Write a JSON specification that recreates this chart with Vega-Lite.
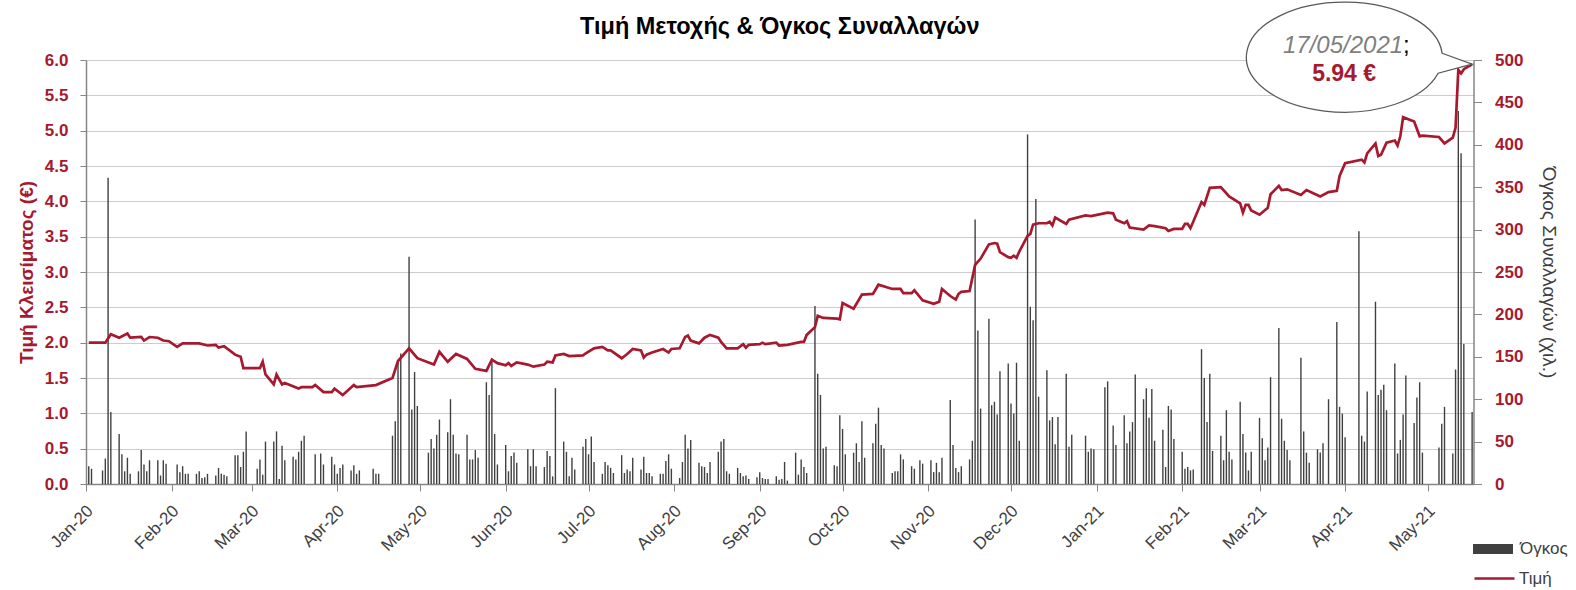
{
  "$schema": "https://vega.github.io/schema/vega-lite/v6.json",
  "width": 1387.5,
  "height": 424,
  "autosize": {"type": "none"},
  "padding": {"left": 86, "top": 60, "right": 102.5, "bottom": 106},
  "background": "white",
  "title": {
    "text": "Τιμή Μετοχής & Όγκος Συναλλαγών",
    "font": "Liberation Sans",
    "fontSize": 23.5,
    "fontWeight": "bold",
    "color": "#000000",
    "anchor": "middle",
    "frame": "group",
    "baseline": "alphabetic",
    "offset": -58
  },
  "config": {
    "view": {"stroke": null},
    "legend": {"padding": 0, "rowPadding": 0}
  },
  "datasets": {
    "price": [
      {"d": "2020-01-02", "p": 2.00}, {"d": "2020-01-08", "p": 2.00}, {"d": "2020-01-10", "p": 2.12}, {"d": "2020-01-13", "p": 2.07},
      {"d": "2020-01-16", "p": 2.13}, {"d": "2020-01-17", "p": 2.07}, {"d": "2020-01-21", "p": 2.08}, {"d": "2020-01-22", "p": 2.03},
      {"d": "2020-01-24", "p": 2.08}, {"d": "2020-01-27", "p": 2.07}, {"d": "2020-01-29", "p": 2.03}, {"d": "2020-01-31", "p": 2.02},
      {"d": "2020-02-03", "p": 1.94}, {"d": "2020-02-05", "p": 1.99}, {"d": "2020-02-11", "p": 1.99}, {"d": "2020-02-14", "p": 1.96},
      {"d": "2020-02-17", "p": 1.97}, {"d": "2020-02-18", "p": 1.93}, {"d": "2020-02-20", "p": 1.95}, {"d": "2020-02-24", "p": 1.83},
      {"d": "2020-02-26", "p": 1.80}, {"d": "2020-02-27", "p": 1.64}, {"d": "2020-03-04", "p": 1.64}, {"d": "2020-03-05", "p": 1.73},
      {"d": "2020-03-06", "p": 1.55}, {"d": "2020-03-09", "p": 1.41}, {"d": "2020-03-10", "p": 1.55}, {"d": "2020-03-12", "p": 1.41},
      {"d": "2020-03-13", "p": 1.43}, {"d": "2020-03-18", "p": 1.35}, {"d": "2020-03-19", "p": 1.37}, {"d": "2020-03-23", "p": 1.37},
      {"d": "2020-03-24", "p": 1.40}, {"d": "2020-03-27", "p": 1.30}, {"d": "2020-03-30", "p": 1.30}, {"d": "2020-03-31", "p": 1.35},
      {"d": "2020-04-03", "p": 1.26}, {"d": "2020-04-07", "p": 1.40}, {"d": "2020-04-08", "p": 1.37}, {"d": "2020-04-15", "p": 1.40},
      {"d": "2020-04-21", "p": 1.50}, {"d": "2020-04-23", "p": 1.74}, {"d": "2020-04-27", "p": 1.92}, {"d": "2020-04-30", "p": 1.78},
      {"d": "2020-05-06", "p": 1.69}, {"d": "2020-05-08", "p": 1.87}, {"d": "2020-05-11", "p": 1.73}, {"d": "2020-05-14", "p": 1.84},
      {"d": "2020-05-18", "p": 1.77}, {"d": "2020-05-21", "p": 1.63}, {"d": "2020-05-25", "p": 1.60}, {"d": "2020-05-27", "p": 1.76},
      {"d": "2020-05-29", "p": 1.71}, {"d": "2020-06-01", "p": 1.68}, {"d": "2020-06-02", "p": 1.71}, {"d": "2020-06-03", "p": 1.67},
      {"d": "2020-06-05", "p": 1.72}, {"d": "2020-06-09", "p": 1.69}, {"d": "2020-06-11", "p": 1.66}, {"d": "2020-06-15", "p": 1.69},
      {"d": "2020-06-16", "p": 1.73}, {"d": "2020-06-18", "p": 1.72}, {"d": "2020-06-19", "p": 1.82}, {"d": "2020-06-22", "p": 1.84},
      {"d": "2020-06-24", "p": 1.81}, {"d": "2020-06-29", "p": 1.82}, {"d": "2020-06-30", "p": 1.85}, {"d": "2020-07-03", "p": 1.92},
      {"d": "2020-07-06", "p": 1.94}, {"d": "2020-07-08", "p": 1.89}, {"d": "2020-07-09", "p": 1.89}, {"d": "2020-07-13", "p": 1.78},
      {"d": "2020-07-15", "p": 1.84}, {"d": "2020-07-17", "p": 1.91}, {"d": "2020-07-20", "p": 1.89}, {"d": "2020-07-21", "p": 1.79},
      {"d": "2020-07-22", "p": 1.83}, {"d": "2020-07-24", "p": 1.86}, {"d": "2020-07-28", "p": 1.91}, {"d": "2020-07-30", "p": 1.86},
      {"d": "2020-07-31", "p": 1.91}, {"d": "2020-08-03", "p": 1.92}, {"d": "2020-08-05", "p": 2.08}, {"d": "2020-08-06", "p": 2.10},
      {"d": "2020-08-07", "p": 2.03}, {"d": "2020-08-10", "p": 1.99}, {"d": "2020-08-12", "p": 2.07}, {"d": "2020-08-14", "p": 2.11},
      {"d": "2020-08-17", "p": 2.07}, {"d": "2020-08-18", "p": 2.01}, {"d": "2020-08-20", "p": 1.92}, {"d": "2020-08-24", "p": 1.92},
      {"d": "2020-08-26", "p": 1.98}, {"d": "2020-08-27", "p": 1.93}, {"d": "2020-08-28", "p": 1.97}, {"d": "2020-09-01", "p": 1.98},
      {"d": "2020-09-02", "p": 2.00}, {"d": "2020-09-03", "p": 1.98}, {"d": "2020-09-07", "p": 2.00}, {"d": "2020-09-08", "p": 1.96},
      {"d": "2020-09-11", "p": 1.97}, {"d": "2020-09-16", "p": 2.01}, {"d": "2020-09-17", "p": 2.01}, {"d": "2020-09-18", "p": 2.11},
      {"d": "2020-09-21", "p": 2.22}, {"d": "2020-09-22", "p": 2.38}, {"d": "2020-09-24", "p": 2.35}, {"d": "2020-09-29", "p": 2.34},
      {"d": "2020-09-30", "p": 2.33}, {"d": "2020-10-01", "p": 2.56}, {"d": "2020-10-05", "p": 2.48}, {"d": "2020-10-08", "p": 2.68},
      {"d": "2020-10-12", "p": 2.69}, {"d": "2020-10-14", "p": 2.82}, {"d": "2020-10-19", "p": 2.76}, {"d": "2020-10-22", "p": 2.76},
      {"d": "2020-10-23", "p": 2.70}, {"d": "2020-10-26", "p": 2.70}, {"d": "2020-10-27", "p": 2.74}, {"d": "2020-10-30", "p": 2.60},
      {"d": "2020-11-03", "p": 2.55}, {"d": "2020-11-05", "p": 2.58}, {"d": "2020-11-06", "p": 2.76}, {"d": "2020-11-09", "p": 2.66},
      {"d": "2020-11-11", "p": 2.61}, {"d": "2020-11-12", "p": 2.69}, {"d": "2020-11-13", "p": 2.72}, {"d": "2020-11-16", "p": 2.73},
      {"d": "2020-11-18", "p": 3.10}, {"d": "2020-11-20", "p": 3.19}, {"d": "2020-11-23", "p": 3.39}, {"d": "2020-11-25", "p": 3.41},
      {"d": "2020-11-26", "p": 3.40}, {"d": "2020-11-27", "p": 3.28}, {"d": "2020-11-30", "p": 3.21}, {"d": "2020-12-01", "p": 3.20},
      {"d": "2020-12-02", "p": 3.23}, {"d": "2020-12-03", "p": 3.20}, {"d": "2020-12-04", "p": 3.29}, {"d": "2020-12-07", "p": 3.51},
      {"d": "2020-12-08", "p": 3.54}, {"d": "2020-12-09", "p": 3.67}, {"d": "2020-12-11", "p": 3.69}, {"d": "2020-12-14", "p": 3.69},
      {"d": "2020-12-15", "p": 3.71}, {"d": "2020-12-16", "p": 3.66}, {"d": "2020-12-17", "p": 3.77}, {"d": "2020-12-21", "p": 3.68},
      {"d": "2020-12-22", "p": 3.74}, {"d": "2020-12-28", "p": 3.80}, {"d": "2020-12-30", "p": 3.79}, {"d": "2021-01-05", "p": 3.84},
      {"d": "2021-01-07", "p": 3.83}, {"d": "2021-01-08", "p": 3.74}, {"d": "2021-01-11", "p": 3.69}, {"d": "2021-01-12", "p": 3.72},
      {"d": "2021-01-13", "p": 3.63}, {"d": "2021-01-18", "p": 3.60}, {"d": "2021-01-20", "p": 3.66}, {"d": "2021-01-22", "p": 3.65},
      {"d": "2021-01-26", "p": 3.62}, {"d": "2021-01-27", "p": 3.58}, {"d": "2021-01-29", "p": 3.61}, {"d": "2021-02-01", "p": 3.61},
      {"d": "2021-02-02", "p": 3.68}, {"d": "2021-02-03", "p": 3.68}, {"d": "2021-02-04", "p": 3.62}, {"d": "2021-02-08", "p": 3.99},
      {"d": "2021-02-09", "p": 3.95}, {"d": "2021-02-11", "p": 4.19}, {"d": "2021-02-15", "p": 4.20}, {"d": "2021-02-18", "p": 4.07},
      {"d": "2021-02-22", "p": 3.97}, {"d": "2021-02-23", "p": 3.84}, {"d": "2021-02-24", "p": 3.95}, {"d": "2021-02-25", "p": 3.95},
      {"d": "2021-02-26", "p": 3.87}, {"d": "2021-03-01", "p": 3.81}, {"d": "2021-03-04", "p": 3.91}, {"d": "2021-03-05", "p": 4.10},
      {"d": "2021-03-08", "p": 4.22}, {"d": "2021-03-09", "p": 4.16}, {"d": "2021-03-11", "p": 4.17}, {"d": "2021-03-16", "p": 4.09},
      {"d": "2021-03-18", "p": 4.16}, {"d": "2021-03-23", "p": 4.07}, {"d": "2021-03-26", "p": 4.13}, {"d": "2021-03-29", "p": 4.15},
      {"d": "2021-03-30", "p": 4.36}, {"d": "2021-04-01", "p": 4.54}, {"d": "2021-04-07", "p": 4.59}, {"d": "2021-04-08", "p": 4.55},
      {"d": "2021-04-09", "p": 4.68}, {"d": "2021-04-12", "p": 4.82}, {"d": "2021-04-13", "p": 4.64}, {"d": "2021-04-14", "p": 4.66},
      {"d": "2021-04-16", "p": 4.83}, {"d": "2021-04-19", "p": 4.86}, {"d": "2021-04-20", "p": 4.79}, {"d": "2021-04-21", "p": 4.92},
      {"d": "2021-04-22", "p": 5.19}, {"d": "2021-04-26", "p": 5.13}, {"d": "2021-04-28", "p": 4.92}, {"d": "2021-04-29", "p": 4.93},
      {"d": "2021-05-05", "p": 4.91}, {"d": "2021-05-07", "p": 4.82}, {"d": "2021-05-10", "p": 4.90}, {"d": "2021-05-11", "p": 5.04},
      {"d": "2021-05-12", "p": 5.86}, {"d": "2021-05-13", "p": 5.81}, {"d": "2021-05-14", "p": 5.87}, {"d": "2021-05-17", "p": 5.94}
    ],
    "volume": [
      {"d": "2020-01-02", "v": 21}, {"d": "2020-01-03", "v": 18}, {"d": "2020-01-07", "v": 16}, {"d": "2020-01-08", "v": 30},
      {"d": "2020-01-09", "v": 361}, {"d": "2020-01-10", "v": 85}, {"d": "2020-01-13", "v": 59}, {"d": "2020-01-14", "v": 35},
      {"d": "2020-01-15", "v": 15}, {"d": "2020-01-16", "v": 31}, {"d": "2020-01-17", "v": 12}, {"d": "2020-01-20", "v": 15},
      {"d": "2020-01-21", "v": 40}, {"d": "2020-01-22", "v": 23}, {"d": "2020-01-23", "v": 15}, {"d": "2020-01-24", "v": 28},
      {"d": "2020-01-27", "v": 28}, {"d": "2020-01-28", "v": 10}, {"d": "2020-01-29", "v": 28}, {"d": "2020-01-30", "v": 24},
      {"d": "2020-02-03", "v": 23}, {"d": "2020-02-04", "v": 14}, {"d": "2020-02-05", "v": 21}, {"d": "2020-02-06", "v": 12},
      {"d": "2020-02-07", "v": 12}, {"d": "2020-02-10", "v": 12}, {"d": "2020-02-11", "v": 15}, {"d": "2020-02-12", "v": 7},
      {"d": "2020-02-13", "v": 8}, {"d": "2020-02-14", "v": 12}, {"d": "2020-02-17", "v": 10}, {"d": "2020-02-18", "v": 19},
      {"d": "2020-02-19", "v": 12}, {"d": "2020-02-20", "v": 11}, {"d": "2020-02-21", "v": 9}, {"d": "2020-02-24", "v": 34},
      {"d": "2020-02-25", "v": 34}, {"d": "2020-02-26", "v": 20}, {"d": "2020-02-27", "v": 38}, {"d": "2020-02-28", "v": 62},
      {"d": "2020-03-03", "v": 18}, {"d": "2020-03-04", "v": 29}, {"d": "2020-03-05", "v": 11}, {"d": "2020-03-06", "v": 50},
      {"d": "2020-03-09", "v": 50}, {"d": "2020-03-10", "v": 62}, {"d": "2020-03-11", "v": 6}, {"d": "2020-03-12", "v": 45},
      {"d": "2020-03-13", "v": 28}, {"d": "2020-03-16", "v": 32}, {"d": "2020-03-17", "v": 29}, {"d": "2020-03-18", "v": 38},
      {"d": "2020-03-19", "v": 51}, {"d": "2020-03-20", "v": 57}, {"d": "2020-03-24", "v": 35}, {"d": "2020-03-26", "v": 36},
      {"d": "2020-03-27", "v": 23}, {"d": "2020-03-30", "v": 32}, {"d": "2020-03-31", "v": 23}, {"d": "2020-04-01", "v": 12},
      {"d": "2020-04-02", "v": 19}, {"d": "2020-04-03", "v": 23}, {"d": "2020-04-06", "v": 16}, {"d": "2020-04-07", "v": 22},
      {"d": "2020-04-08", "v": 12}, {"d": "2020-04-09", "v": 16}, {"d": "2020-04-14", "v": 18}, {"d": "2020-04-15", "v": 12},
      {"d": "2020-04-16", "v": 12}, {"d": "2020-04-21", "v": 57}, {"d": "2020-04-22", "v": 74}, {"d": "2020-04-23", "v": 144},
      {"d": "2020-04-24", "v": 154}, {"d": "2020-04-27", "v": 268}, {"d": "2020-04-28", "v": 88}, {"d": "2020-04-29", "v": 132},
      {"d": "2020-04-30", "v": 92}, {"d": "2020-05-04", "v": 37}, {"d": "2020-05-05", "v": 53}, {"d": "2020-05-06", "v": 42},
      {"d": "2020-05-07", "v": 58}, {"d": "2020-05-08", "v": 76}, {"d": "2020-05-11", "v": 61}, {"d": "2020-05-12", "v": 100},
      {"d": "2020-05-13", "v": 58}, {"d": "2020-05-14", "v": 36}, {"d": "2020-05-15", "v": 35}, {"d": "2020-05-18", "v": 58},
      {"d": "2020-05-19", "v": 29}, {"d": "2020-05-20", "v": 29}, {"d": "2020-05-21", "v": 40}, {"d": "2020-05-22", "v": 31},
      {"d": "2020-05-25", "v": 120}, {"d": "2020-05-26", "v": 105}, {"d": "2020-05-27", "v": 148}, {"d": "2020-05-28", "v": 59},
      {"d": "2020-05-29", "v": 23}, {"d": "2020-06-01", "v": 46}, {"d": "2020-06-02", "v": 15}, {"d": "2020-06-03", "v": 33},
      {"d": "2020-06-04", "v": 37}, {"d": "2020-06-05", "v": 25}, {"d": "2020-06-09", "v": 41}, {"d": "2020-06-10", "v": 21},
      {"d": "2020-06-11", "v": 41}, {"d": "2020-06-12", "v": 21}, {"d": "2020-06-15", "v": 20}, {"d": "2020-06-16", "v": 39},
      {"d": "2020-06-17", "v": 33}, {"d": "2020-06-18", "v": 9}, {"d": "2020-06-19", "v": 113}, {"d": "2020-06-22", "v": 50},
      {"d": "2020-06-23", "v": 38}, {"d": "2020-06-24", "v": 9}, {"d": "2020-06-25", "v": 31}, {"d": "2020-06-26", "v": 17},
      {"d": "2020-06-29", "v": 44}, {"d": "2020-06-30", "v": 53}, {"d": "2020-07-01", "v": 35}, {"d": "2020-07-02", "v": 56},
      {"d": "2020-07-03", "v": 26}, {"d": "2020-07-06", "v": 12}, {"d": "2020-07-07", "v": 26}, {"d": "2020-07-08", "v": 22},
      {"d": "2020-07-09", "v": 19}, {"d": "2020-07-10", "v": 13}, {"d": "2020-07-13", "v": 34}, {"d": "2020-07-14", "v": 13},
      {"d": "2020-07-15", "v": 17}, {"d": "2020-07-16", "v": 15}, {"d": "2020-07-17", "v": 31}, {"d": "2020-07-20", "v": 17},
      {"d": "2020-07-21", "v": 32}, {"d": "2020-07-22", "v": 13}, {"d": "2020-07-23", "v": 13}, {"d": "2020-07-24", "v": 9},
      {"d": "2020-07-27", "v": 12}, {"d": "2020-07-28", "v": 12}, {"d": "2020-07-29", "v": 27}, {"d": "2020-07-30", "v": 35},
      {"d": "2020-07-31", "v": 18}, {"d": "2020-08-03", "v": 7}, {"d": "2020-08-04", "v": 26}, {"d": "2020-08-05", "v": 58},
      {"d": "2020-08-06", "v": 42}, {"d": "2020-08-07", "v": 52}, {"d": "2020-08-10", "v": 25}, {"d": "2020-08-11", "v": 21},
      {"d": "2020-08-12", "v": 20}, {"d": "2020-08-13", "v": 13}, {"d": "2020-08-14", "v": 26}, {"d": "2020-08-17", "v": 38},
      {"d": "2020-08-18", "v": 50}, {"d": "2020-08-19", "v": 53}, {"d": "2020-08-20", "v": 15}, {"d": "2020-08-21", "v": 12},
      {"d": "2020-08-24", "v": 19}, {"d": "2020-08-25", "v": 13}, {"d": "2020-08-26", "v": 9}, {"d": "2020-08-27", "v": 10},
      {"d": "2020-08-28", "v": 6}, {"d": "2020-08-31", "v": 8}, {"d": "2020-09-01", "v": 14}, {"d": "2020-09-02", "v": 7},
      {"d": "2020-09-03", "v": 6}, {"d": "2020-09-04", "v": 6}, {"d": "2020-09-07", "v": 9}, {"d": "2020-09-08", "v": 5},
      {"d": "2020-09-09", "v": 6}, {"d": "2020-09-10", "v": 26}, {"d": "2020-09-11", "v": 4}, {"d": "2020-09-14", "v": 37},
      {"d": "2020-09-15", "v": 11}, {"d": "2020-09-16", "v": 29}, {"d": "2020-09-17", "v": 20}, {"d": "2020-09-18", "v": 13},
      {"d": "2020-09-21", "v": 210}, {"d": "2020-09-22", "v": 130}, {"d": "2020-09-23", "v": 105}, {"d": "2020-09-24", "v": 42},
      {"d": "2020-09-25", "v": 44}, {"d": "2020-09-28", "v": 22}, {"d": "2020-09-29", "v": 21}, {"d": "2020-09-30", "v": 81},
      {"d": "2020-10-01", "v": 65}, {"d": "2020-10-02", "v": 35}, {"d": "2020-10-05", "v": 37}, {"d": "2020-10-06", "v": 48},
      {"d": "2020-10-07", "v": 26}, {"d": "2020-10-08", "v": 74}, {"d": "2020-10-09", "v": 31}, {"d": "2020-10-12", "v": 48},
      {"d": "2020-10-13", "v": 71}, {"d": "2020-10-14", "v": 90}, {"d": "2020-10-15", "v": 46}, {"d": "2020-10-16", "v": 42},
      {"d": "2020-10-19", "v": 13}, {"d": "2020-10-20", "v": 15}, {"d": "2020-10-21", "v": 15}, {"d": "2020-10-22", "v": 35},
      {"d": "2020-10-23", "v": 29}, {"d": "2020-10-26", "v": 21}, {"d": "2020-10-27", "v": 18}, {"d": "2020-10-29", "v": 28},
      {"d": "2020-10-30", "v": 24}, {"d": "2020-11-02", "v": 28}, {"d": "2020-11-03", "v": 14}, {"d": "2020-11-04", "v": 25},
      {"d": "2020-11-05", "v": 14}, {"d": "2020-11-06", "v": 31}, {"d": "2020-11-09", "v": 99}, {"d": "2020-11-10", "v": 46},
      {"d": "2020-11-11", "v": 19}, {"d": "2020-11-12", "v": 14}, {"d": "2020-11-13", "v": 21}, {"d": "2020-11-16", "v": 29},
      {"d": "2020-11-17", "v": 51}, {"d": "2020-11-18", "v": 312}, {"d": "2020-11-19", "v": 181}, {"d": "2020-11-20", "v": 89},
      {"d": "2020-11-23", "v": 195}, {"d": "2020-11-24", "v": 93}, {"d": "2020-11-25", "v": 97}, {"d": "2020-11-26", "v": 82},
      {"d": "2020-11-27", "v": 133}, {"d": "2020-11-30", "v": 142}, {"d": "2020-12-01", "v": 95}, {"d": "2020-12-02", "v": 83},
      {"d": "2020-12-03", "v": 143}, {"d": "2020-12-04", "v": 51}, {"d": "2020-12-07", "v": 412}, {"d": "2020-12-08", "v": 209},
      {"d": "2020-12-09", "v": 193}, {"d": "2020-12-10", "v": 336}, {"d": "2020-12-11", "v": 103}, {"d": "2020-12-14", "v": 134},
      {"d": "2020-12-15", "v": 75}, {"d": "2020-12-16", "v": 79}, {"d": "2020-12-17", "v": 47}, {"d": "2020-12-18", "v": 79},
      {"d": "2020-12-21", "v": 130}, {"d": "2020-12-22", "v": 44}, {"d": "2020-12-23", "v": 58}, {"d": "2020-12-28", "v": 57},
      {"d": "2020-12-29", "v": 38}, {"d": "2020-12-30", "v": 42}, {"d": "2020-12-31", "v": 41}, {"d": "2021-01-04", "v": 114},
      {"d": "2021-01-05", "v": 121}, {"d": "2021-01-07", "v": 69}, {"d": "2021-01-08", "v": 46}, {"d": "2021-01-11", "v": 81},
      {"d": "2021-01-12", "v": 48}, {"d": "2021-01-13", "v": 62}, {"d": "2021-01-14", "v": 73}, {"d": "2021-01-15", "v": 129},
      {"d": "2021-01-18", "v": 100}, {"d": "2021-01-19", "v": 113}, {"d": "2021-01-20", "v": 78}, {"d": "2021-01-21", "v": 112},
      {"d": "2021-01-22", "v": 51}, {"d": "2021-01-25", "v": 64}, {"d": "2021-01-26", "v": 20}, {"d": "2021-01-27", "v": 92},
      {"d": "2021-01-28", "v": 88}, {"d": "2021-01-29", "v": 53}, {"d": "2021-02-01", "v": 38}, {"d": "2021-02-02", "v": 18},
      {"d": "2021-02-03", "v": 20}, {"d": "2021-02-04", "v": 16}, {"d": "2021-02-05", "v": 17}, {"d": "2021-02-08", "v": 159},
      {"d": "2021-02-09", "v": 125}, {"d": "2021-02-10", "v": 73}, {"d": "2021-02-11", "v": 130}, {"d": "2021-02-12", "v": 39},
      {"d": "2021-02-15", "v": 57}, {"d": "2021-02-16", "v": 28}, {"d": "2021-02-17", "v": 87}, {"d": "2021-02-18", "v": 38},
      {"d": "2021-02-19", "v": 29}, {"d": "2021-02-22", "v": 97}, {"d": "2021-02-23", "v": 59}, {"d": "2021-02-24", "v": 37},
      {"d": "2021-02-25", "v": 16}, {"d": "2021-02-26", "v": 38}, {"d": "2021-03-01", "v": 78}, {"d": "2021-03-02", "v": 54},
      {"d": "2021-03-03", "v": 28}, {"d": "2021-03-04", "v": 43}, {"d": "2021-03-05", "v": 126}, {"d": "2021-03-08", "v": 184},
      {"d": "2021-03-09", "v": 77}, {"d": "2021-03-10", "v": 51}, {"d": "2021-03-11", "v": 40}, {"d": "2021-03-12", "v": 28},
      {"d": "2021-03-16", "v": 149}, {"d": "2021-03-17", "v": 62}, {"d": "2021-03-18", "v": 37}, {"d": "2021-03-19", "v": 25},
      {"d": "2021-03-22", "v": 41}, {"d": "2021-03-23", "v": 37}, {"d": "2021-03-24", "v": 48}, {"d": "2021-03-26", "v": 100},
      {"d": "2021-03-29", "v": 191}, {"d": "2021-03-30", "v": 91}, {"d": "2021-03-31", "v": 83}, {"d": "2021-04-01", "v": 55},
      {"d": "2021-04-06", "v": 298}, {"d": "2021-04-07", "v": 57}, {"d": "2021-04-08", "v": 50}, {"d": "2021-04-09", "v": 109},
      {"d": "2021-04-12", "v": 215}, {"d": "2021-04-13", "v": 105}, {"d": "2021-04-14", "v": 111}, {"d": "2021-04-15", "v": 117},
      {"d": "2021-04-16", "v": 87}, {"d": "2021-04-19", "v": 142}, {"d": "2021-04-20", "v": 36}, {"d": "2021-04-21", "v": 52},
      {"d": "2021-04-22", "v": 82}, {"d": "2021-04-23", "v": 128}, {"d": "2021-04-26", "v": 72}, {"d": "2021-04-27", "v": 102},
      {"d": "2021-04-28", "v": 120}, {"d": "2021-04-29", "v": 37}, {"d": "2021-05-05", "v": 43}, {"d": "2021-05-06", "v": 71},
      {"d": "2021-05-07", "v": 91}, {"d": "2021-05-10", "v": 36}, {"d": "2021-05-11", "v": 135}, {"d": "2021-05-12", "v": 440},
      {"d": "2021-05-13", "v": 390}, {"d": "2021-05-14", "v": 165}, {"d": "2021-05-17", "v": 85}
    ],
    "callout": [
      {"d": "2021-05-17", "p": 5.94, "date_label": "17/05/2021", "sep": ";", "price_label": "5.94 €"}
    ]
  },
  "encoding": {
    "x": {
      "field": "d",
      "type": "temporal",
      "scale": {
        "type": "utc",
        "padding": 0,
        "nice": false,
        "domain": [
          {"year": 2020, "month": 1, "date": 1, "utc": true},
          {"year": 2021, "month": 5, "date": 17, "hours": 12, "utc": true}
        ]
      },
      "axis": {
        "title": null,
        "labelExpr": "utcFormat(datum.value, '%b-%y')",
        "tickCount": {"interval": "month", "step": 1},
        "labelAngle": -45,
        "labelAlign": "right",
        "labelBaseline": "middle",
        "labelPadding": 17,
        "labelOffset": 4,
        "labelFont": "Liberation Sans",
        "labelFontSize": 17,
        "labelColor": "#404040",
        "labelOverlap": false,
        "tickSize": 7,
        "tickColor": "#868686",
        "domainColor": "#868686",
        "domainWidth": 1.5,
        "grid": false
      }
    }
  },
  "layer": [
    {
      "data": {"name": "volume"},
      "mark": {"type": "bar", "size": 1.4},
      "encoding": {
        "y": {
          "field": "v",
          "type": "quantitative",
          "scale": {"domain": [0, 500], "nice": false},
          "axis": {
            "orient": "right",
            "values": [0, 50, 100, 150, 200, 250, 300, 350, 400, 450, 500],
            "grid": false,
            "labelFont": "Liberation Sans",
            "labelFontSize": 17,
            "labelFontWeight": "bold",
            "labelColor": "#A6192E",
            "labelPadding": 13,
            "tickSize": 8,
            "tickColor": "#868686",
            "domainColor": "#868686",
            "domainWidth": 1.5,
            "title": "Όγκος Συναλλαγών (χιλ.)",
            "titleFont": "Liberation Sans",
            "titleFontSize": 19,
            "titleFontWeight": "normal",
            "titleColor": "#404040",
            "titlePadding": 16
          }
        },
        "fill": {
          "datum": "Όγκος",
          "scale": {"range": ["#404040"]},
          "legend": {
            "title": null,
            "orient": "none",
            "legendX": 1387,
            "legendY": 469,
            "symbolType": "M-1,-0.25H1V0.25H-1Z",
            "symbolSize": 1600,
            "symbolStrokeWidth": 0,
            "labelFont": "Liberation Sans",
            "labelFontSize": 17,
            "labelColor": "#404040",
            "labelOffset": 7
          }
        }
      }
    },
    {
      "encoding": {
        "y": {
          "field": "p",
          "type": "quantitative",
          "scale": {"domain": [0, 6], "nice": false},
          "axis": {
            "orient": "left",
            "values": [0, 0.5, 1, 1.5, 2, 2.5, 3, 3.5, 4, 4.5, 5, 5.5, 6],
            "format": ".1f",
            "grid": true,
            "gridColor": "#cccccc",
            "gridWidth": 1,
            "labelFont": "Liberation Sans",
            "labelFontSize": 17,
            "labelFontWeight": "bold",
            "labelColor": "#A6192E",
            "labelPadding": 12,
            "tickSize": 6,
            "tickColor": "#868686",
            "domainColor": "#868686",
            "domainWidth": 1.5,
            "title": "Τιμή Κλεισίματος (€)",
            "titleFont": "Liberation Sans",
            "titleFontSize": 19,
            "titleFontWeight": "bold",
            "titleColor": "#A6192E",
            "titlePadding": 8
          }
        }
      },
      "layer": [
        {
          "data": {"name": "price"},
          "mark": {"type": "line", "strokeWidth": 2.7, "interpolate": "linear"},
          "encoding": {
            "stroke": {
              "datum": "Τιμή",
              "scale": {"range": ["#A6192E"]},
              "legend": {
                "title": null,
                "orient": "none",
                "legendX": 1387,
                "legendY": 497,
                "symbolType": "stroke",
                "symbolSize": 1600,
                "symbolStrokeWidth": 2.5,
                "labelFont": "Liberation Sans",
                "labelFontSize": 17,
                "labelColor": "#404040",
                "labelOffset": 3
              }
            }
          }
        },
        {
          "data": {"name": "callout"},
          "mark": {
            "type": "point",
            "shape": "M-30,-11L0,0L-34,9A98,55,0,1,1,-30,-11Z",
            "size": 4,
            "filled": true,
            "fill": "#ffffff",
            "fillOpacity": 1,
            "opacity": 1,
            "stroke": "#595959",
            "strokeWidth": 1.3
          }
        },
        {
          "data": {"name": "callout"},
          "mark": {
            "type": "text",
            "align": "right",
            "baseline": "alphabetic",
            "dx": -69,
            "dy": -11,
            "font": "Liberation Sans",
            "fontSize": 24,
            "fontStyle": "italic",
            "color": "#7F7F7F"
          },
          "encoding": {"text": {"field": "date_label"}}
        },
        {
          "data": {"name": "callout"},
          "mark": {
            "type": "text",
            "align": "left",
            "baseline": "alphabetic",
            "dx": -69,
            "dy": -11,
            "font": "Liberation Sans",
            "fontSize": 24,
            "color": "#000000"
          },
          "encoding": {"text": {"field": "sep"}}
        },
        {
          "data": {"name": "callout"},
          "mark": {
            "type": "text",
            "align": "center",
            "baseline": "alphabetic",
            "dx": -128,
            "dy": 17,
            "font": "Liberation Sans",
            "fontSize": 23,
            "fontWeight": "bold",
            "color": "#A6192E"
          },
          "encoding": {"text": {"field": "price_label"}}
        }
      ]
    }
  ],
  "resolve": {"scale": {"y": "independent"}}
}
